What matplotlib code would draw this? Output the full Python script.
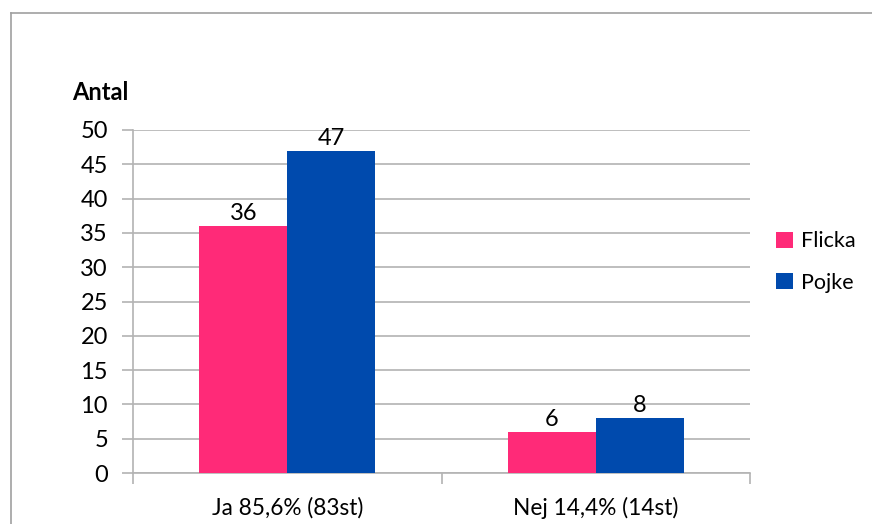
import numpy as np
import matplotlib.pyplot as plt
from matplotlib.lines import Line2D
from matplotlib.patches import Patch

categories = ['Ja 85,6% (83st)', 'Nej 14,4% (14st)']
flicka = [36, 6]
pojke = [47, 8]
series_names = ['Flicka', 'Pojke']
yticks = [0, 5, 10, 15, 20, 25, 30, 35, 40, 45, 50]

pink = '#FF2A78'
blue = '#004AAD'
grid_col = '#B3B3B3'

plt.rcParams['font.family'] = ['Lato', 'DejaVu Sans']

fig = plt.figure(figsize=(8.72, 5.24), dpi=100)
ax = fig.add_axes([133 / 872, 1 - 473 / 524, (750 - 133) / 872, (473 - 130) / 524])

x = np.arange(len(categories))
w = 0.285
b1 = ax.bar(x - w / 2, flicka, w, color=pink, label=series_names[0], zorder=3)
b2 = ax.bar(x + w / 2, pojke, w, color=blue, label=series_names[1], zorder=3)

for bars, vals in [(b1, flicka), (b2, pojke)]:
    for r, v in zip(bars, vals):
        ax.text(r.get_x() + r.get_width() / 2, v + 0.3, str(v),
                ha='center', va='bottom', fontsize=17, color='black')

ax.set_xlim(-0.5, 1.5)
ax.set_ylim(0, 50)
ax.set_yticks(yticks)
ax.set_yticklabels([str(t) for t in yticks], fontsize=17)
ax.yaxis.grid(True, color=grid_col, linewidth=1.2, zorder=0)
ax.tick_params(axis='y', length=8, color=grid_col, width=1.2, pad=10)

# category ticks sit between groups
ax.set_xticks([-0.5, 0.5, 1.5], minor=False)
ax.set_xticklabels(['', '', ''])
ax.tick_params(axis='x', length=8, color=grid_col, width=1.2)
ax.set_xticks(x, minor=True)
ax.set_xticklabels(categories, minor=True, fontsize=16.3)
ax.tick_params(axis='x', which='minor', length=0, pad=17)

for s in ['top', 'right']:
    ax.spines[s].set_visible(False)
ax.spines['left'].set_color(grid_col)
ax.spines['bottom'].set_color(grid_col)
ax.spines['left'].set_linewidth(1.2)
ax.spines['bottom'].set_linewidth(1.2)

fig.text(72 / 872, 1 - 92 / 524, 'Antal', fontsize=17, fontweight='bold', va='center', ha='left')

handles = [Patch(facecolor=pink), Patch(facecolor=blue)]
fig.legend(handles, series_names, loc='center left', bbox_to_anchor=(757 / 872, 1 - 262 / 524),
           frameon=False, fontsize=15.5, handlelength=0.75, handleheight=0.75,
           handletextpad=0.4, labelspacing=1.0)

# outer chart border (left and top visible)
fig.add_artist(Line2D([10.5 / 872, 10.5 / 872], [0, 1 - 13 / 524], transform=fig.transFigure,
                      color='#A0A0A0', linewidth=1.2))
fig.add_artist(Line2D([10.5 / 872, 1], [1 - 13 / 524, 1 - 13 / 524], transform=fig.transFigure,
                      color='#A0A0A0', linewidth=1.2))

fig.savefig('out.png', dpi=100)
